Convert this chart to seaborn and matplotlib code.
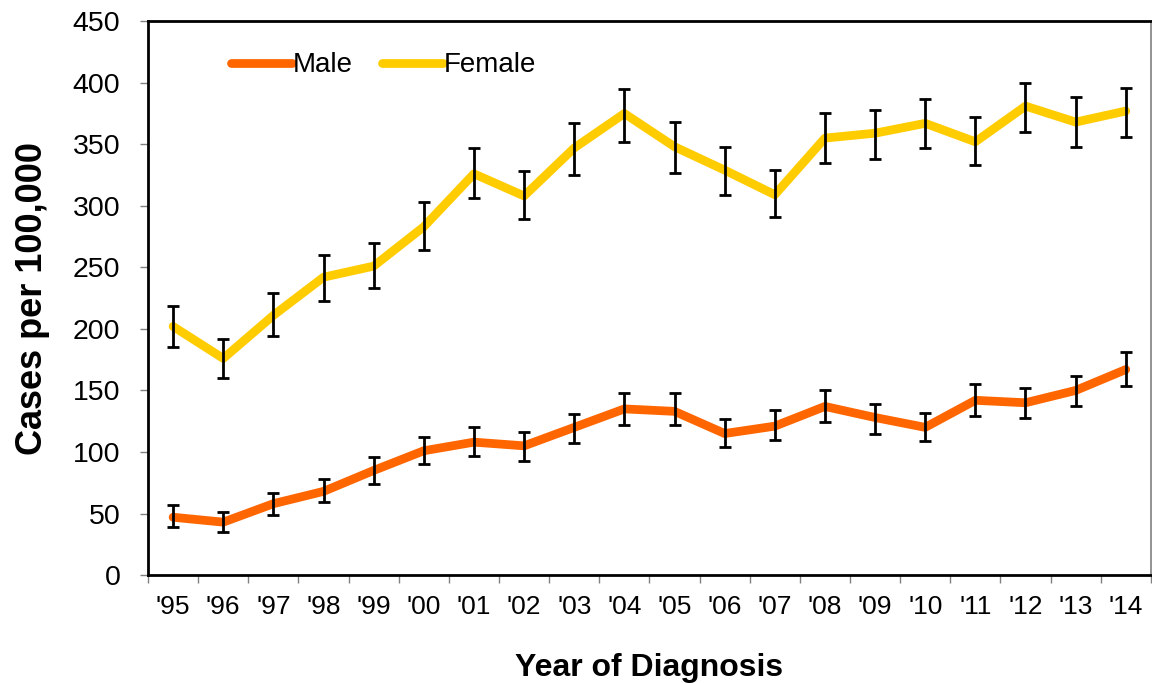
import numpy as np
import pandas as pd
import seaborn as sns
import matplotlib.pyplot as plt
from matplotlib.ticker import FixedLocator


# data
years = ["'95", "'96", "'97", "'98", "'99", "'00", "'01", "'02", "'03", "'04",
         "'05", "'06", "'07", "'08", "'09", "'10", "'11", "'12", "'13", "'14"]

male_rate = [47, 43, 58, 68, 85, 101, 108, 105, 120, 135,
             133, 115, 121, 137, 128, 120, 142, 140, 150, 167]
male_lo = [39, 35, 49, 59, 74, 90, 97, 93, 107, 122,
           122, 104, 110, 124, 115, 109, 129, 128, 137, 154]
male_hi = [57, 51, 67, 78, 96, 112, 120, 116, 131, 148,
           148, 127, 134, 150, 139, 132, 155, 152, 162, 181]

female_rate = [202, 176, 211, 242, 251, 283, 326, 308, 347, 375,
               348, 329, 309, 355, 359, 367, 352, 381, 368, 377]
female_lo = [185, 160, 194, 223, 233, 264, 306, 289, 325, 352,
             327, 309, 291, 335, 338, 347, 333, 360, 348, 356]
female_hi = [219, 192, 229, 260, 270, 303, 347, 328, 367, 395,
             368, 348, 329, 375, 378, 387, 372, 400, 388, 396]

colours = {"Male": "#FF6600", "Female": "#FFCC00"}

# long-form table for seaborn
pos = np.arange(len(years))
df = pd.concat([
    pd.DataFrame({"pos": pos, "rate": male_rate, "lo": male_lo, "hi": male_hi, "sex": "Male"}),
    pd.DataFrame({"pos": pos, "rate": female_rate, "lo": female_lo, "hi": female_hi, "sex": "Female"}),
])

sns.set_style("white")
plt.rcParams["font.family"] = ["Liberation Sans", "DejaVu Sans"]
plt.rcParams["text.color"] = "black"
plt.rcParams["axes.labelcolor"] = "black"
plt.rcParams["xtick.labelcolor"] = "black"
plt.rcParams["ytick.labelcolor"] = "black"

fig = plt.figure(figsize=(11.52, 6.83), dpi=100)
ax = fig.add_axes([0.1285, 0.158, 0.8705, 0.811])

sns.lineplot(data=df, x="pos", y="rate", hue="sex", palette=colours,
             linewidth=6.3, solid_capstyle="round", ax=ax, zorder=2)

# confidence intervals
for sex, grp in df.groupby("sex", sort=False):
    ax.errorbar(grp["pos"], grp["rate"],
                yerr=[grp["rate"] - grp["lo"], grp["hi"] - grp["rate"]],
                fmt="none", ecolor="black", elinewidth=2, capsize=4.6,
                capthick=2, zorder=3)

ax.set_xlim(-0.5, len(years) - 0.5)
ax.set_ylim(0, 450)
ax.set_yticks(range(0, 451, 50))
ax.tick_params(axis="y", labelsize=20.5, length=6, width=1, color="#808080",
               pad=14, left=True, direction="out")

# labels at category centres, tick marks on the boundaries
ax.set_xticks(pos)
ax.set_xticklabels(years)
ax.xaxis.set_minor_locator(FixedLocator(np.arange(-0.5, len(years), 1.0)))
ax.tick_params(axis="x", which="major", length=0, labelsize=19, pad=14)
ax.tick_params(axis="x", which="minor", length=6, width=1, color="#808080",
               bottom=True, direction="out")

for side in ["left", "bottom", "top"]:
    ax.spines[side].set_color("black")
    ax.spines[side].set_linewidth(2)
ax.spines["right"].set_color("#808080")
ax.spines["right"].set_linewidth(1.2)

ax.set_xlabel("Year of Diagnosis", fontsize=23, fontweight="bold", labelpad=25)
ax.set_ylabel("Cases per 100,000", fontsize=26, fontweight="bold", labelpad=16)

leg = ax.legend(loc="center left", bbox_to_anchor=(0.083, 0.92), ncol=2,
                frameon=False, fontsize=20, handlelength=2.2,
                handletextpad=0.02, columnspacing=1.05, borderpad=0,
                borderaxespad=0)
for line in leg.get_lines():
    line.set_linewidth(6.3)
    line.set_solid_capstyle("round")

plt.savefig("out.png", dpi=100)
